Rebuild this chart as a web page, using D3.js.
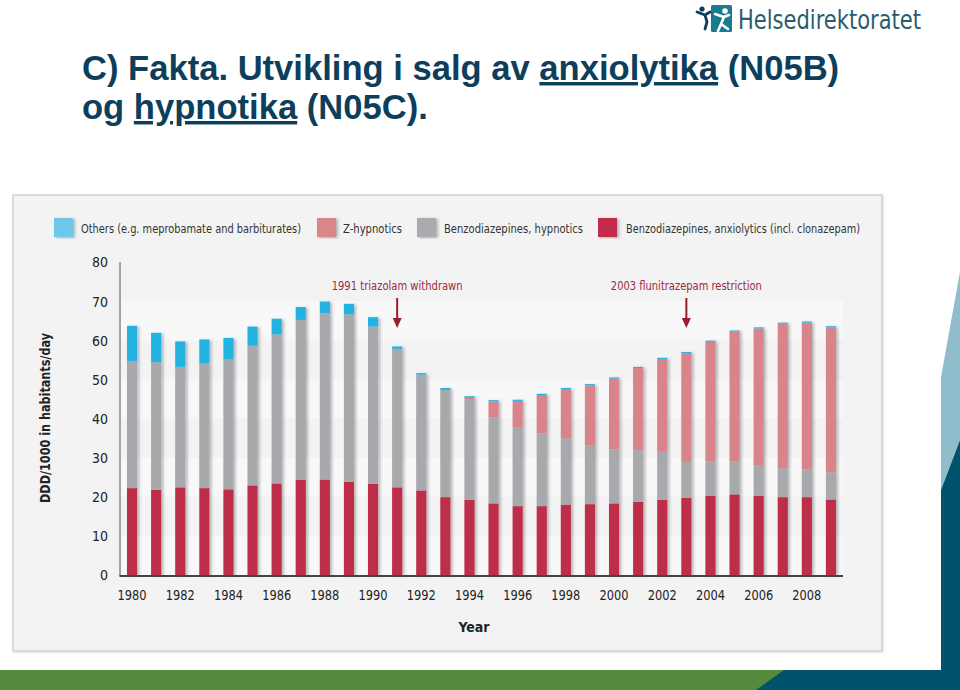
<!DOCTYPE html>
<html>
<head>
<meta charset="utf-8">
<script src="https://cdn.jsdelivr.net/npm/d3@7"></script>
<style>
  html, body { margin: 0; padding: 0; background: #ffffff; }
  svg { display: block; }
  .cond { font-family: 'Liberation Sans Narrow', 'DejaVu Sans Condensed', 'Roboto Condensed', sans-serif; font-stretch: condensed; }
</style>
</head>
<body>
<svg id="chart" width="960" height="690"></svg>
<script>
// ---------- DATA ----------
const years = [1980,1981,1982,1983,1984,1985,1986,1987,1988,1989,1990,1991,1992,1993,1994,1995,1996,1997,1998,1999,2000,2001,2002,2003,2004,2005,2006,2007,2008,2009];
const anxiolytics = [22.2,21.8,22.4,22.2,21.9,22.9,23.4,24.3,24.4,23.8,23.3,22.4,21.6,19.9,19.2,18.3,17.6,17.6,18.0,18.1,18.3,18.7,19.2,19.7,20.3,20.6,20.2,19.9,19.9,19.3];
const benzoHypnotics = [32.5,32.6,30.8,31.9,33.2,35.7,38.1,40.9,42.5,42.8,40.2,35.4,29.6,27.4,25.6,22.0,20.1,18.6,16.9,15.1,13.8,13.2,12.3,9.2,8.8,8.5,7.9,7.4,7.1,6.9];
const zHypnotics = [0,0,0,0,0,0,0,0,0,0,0,0,0,0,0.5,4.1,6.8,9.8,12.6,15.3,18.1,21.0,23.7,27.8,30.5,33.1,34.9,36.9,37.5,37.1];
const others = [9.0,7.5,6.5,6.1,5.5,4.9,4.0,3.3,3.0,2.7,2.4,0.6,0.4,0.5,0.4,0.3,0.3,0.3,0.3,0.3,0.3,0.3,0.3,0.3,0.3,0.3,0.3,0.3,0.3,0.3];
const seriesKeys = ["anx","hyp","z","oth"];
const seriesLabels = ["Benzodiazepines, anxiolytics (incl. clonazepam)","Benzodiazepines, hypnotics","Z-hypnotics","Others (e.g. meprobamate and barbiturates)"];
const yTicks = [0,10,20,30,40,50,60,70,80];
const xTickYears = [1980,1982,1984,1986,1988,1990,1992,1994,1996,1998,2000,2002,2004,2006,2008];
const events = [{year:1991, label:"1991 triazolam withdrawn"},{year:2003, label:"2003 flunitrazepam restriction"}];

const colors = {anx:"#bf2e4a", hyp:"#a7a9ac", z:"#d8848a", oth:"#22b3e3"};
const legendColors = {anx:"#c42a4a", hyp:"#a9abae", z:"#d9868b", oth:"#6ec8ea"};

const table = years.map((y,i) => ({year:y, anx:anxiolytics[i], hyp:benzoHypnotics[i], z:zHypnotics[i], oth:others[i]}));

// ---------- SETUP ----------
const svg = d3.select("#chart");
const defs = svg.append("defs");
const f = defs.append("filter").attr("id","shadow").attr("x","-50%").attr("y","-10%").attr("width","200%").attr("height","120%");
f.append("feDropShadow").attr("dx",2).attr("dy",1).attr("stdDeviation",1.6).attr("flood-color","#000").attr("flood-opacity",0.28);
const f2 = defs.append("filter").attr("id","boxshadow").attr("x","-5%").attr("y","-5%").attr("width","110%").attr("height","110%");
f2.append("feDropShadow").attr("dx",1).attr("dy",1).attr("stdDeviation",1).attr("flood-color","#000").attr("flood-opacity",0.15);

// ---------- PAGE DECORATION ----------
svg.append("polygon").attr("points","941,377 960,272 960,440 941,490").attr("fill","#8fbdcb");
svg.append("polygon").attr("points","941,490 960,440 960,690 941,690").attr("fill","#00536a");
svg.append("rect").attr("x",0).attr("y",670).attr("width",790).attr("height",20).attr("fill","#538a3e");
svg.append("polygon").attr("points","784,670 960,670 960,690 756,690").attr("fill","#00536a");

// Title
const title = svg.append("g").attr("font-family","'Liberation Sans', Arial, sans-serif").attr("font-weight","bold").attr("font-size",34.6).attr("fill","#0d3f5c");
const t1 = title.append("text").attr("x",82).attr("y",80);
t1.append("tspan").text("C) Fakta. Utvikling i salg av ");
t1.append("tspan").attr("text-decoration","underline").text("anxiolytika");
t1.append("tspan").text(" (N05B)");
const t2 = title.append("text").attr("x",82).attr("y",119);
t2.append("tspan").text("og ");
t2.append("tspan").attr("text-decoration","underline").text("hypnotika");
t2.append("tspan").text(" (N05C).");

// Logo
const logo = svg.append("g");
logo.append("rect").attr("x",711).attr("y",5).attr("width",21).attr("height",27).attr("rx",1.5).attr("fill","#1c7a90");
logo.append("circle").attr("cx",725).attr("cy",11).attr("r",2.8).attr("fill","#fff");
logo.append("path").attr("d","M715,14 L724,17 L729,15 M724,17 L721,24 L718,31 M721,24 L728,29").attr("stroke","#fff").attr("stroke-width",2.6).attr("fill","none").attr("stroke-linecap","round");
logo.append("circle").attr("cx",702).attr("cy",9).attr("r",2.6).attr("fill","#0d3f5c");
logo.append("path").attr("d","M697,12 L705,15 L710,12 M705,15 L707,22 L705,29").attr("stroke","#0d3f5c").attr("stroke-width",2.8).attr("fill","none").attr("stroke-linecap","round");
logo.append("text").attr("x",738).attr("y",29).attr("font-family","'DejaVu Sans Condensed', 'Liberation Sans Narrow', sans-serif")
  .attr("font-size",26).attr("fill","#2b5c6e").attr("textLength",183).attr("lengthAdjust","spacingAndGlyphs").text("Helsedirektoratet");

// ---------- CHART BOX ----------
svg.append("rect").attr("x",13).attr("y",195).attr("width",869).attr("height",456)
  .attr("fill","#f3f3f3").attr("stroke","#c9c9c9").attr("stroke-width",1.2).attr("filter","url(#boxshadow)");

const x = d3.scaleBand().domain(years).range([120,843]).paddingInner(0.58).paddingOuter(0.29);
const y = d3.scaleLinear().domain([0,80]).range([575,262]);

// subtle bands
const bandStarts = [0,20,40,60];
svg.append("g").selectAll("rect").data(bandStarts).join("rect")
  .attr("x",121).attr("width",722)
  .attr("y",d => y(d+10)).attr("height",d => y(d)-y(d+10))
  .attr("fill","#f8f8f8");

// Legend
const legendItems = [
  {key:"oth", label:seriesLabels[3], x:54, tx:81, tw:220},
  {key:"z", label:seriesLabels[2], x:317, tx:343, tw:59},
  {key:"hyp", label:seriesLabels[1], x:417, tx:444, tw:139},
  {key:"anx", label:seriesLabels[0], x:598, tx:626, tw:234}
];
const lg = svg.append("g");
lg.selectAll("rect").data(legendItems).join("rect")
  .attr("x",d=>d.x).attr("y",218).attr("width",19).attr("height",19)
  .attr("fill",d=>legendColors[d.key]).attr("filter","url(#shadow)");
lg.selectAll("text").data(legendItems).join("text")
  .attr("class","cond").attr("x",d=>d.tx).attr("y",233).attr("font-size",13).attr("fill","#333")
  .attr("textLength",d=>d.tw).attr("lengthAdjust","spacingAndGlyphs").text(d=>d.label);

// Bars
const stack = d3.stack().keys(seriesKeys)(table);
const barsG = svg.append("g").attr("filter","url(#shadow)");
barsG.selectAll("g").data(stack).join("g")
  .attr("fill",d=>colors[d.key])
  .selectAll("rect").data(d=>d).join("rect")
  .attr("x",d=>x(d.data.year)).attr("width",x.bandwidth())
  .attr("y",d=>y(d[1])).attr("height",d=>Math.max(0,y(d[0])-y(d[1])));

// Axes
svg.append("line").attr("x1",120).attr("x2",120).attr("y1",262).attr("y2",576).attr("stroke","#555").attr("stroke-width",1);
svg.append("line").attr("x1",119.5).attr("x2",843).attr("y1",576).attr("y2",576).attr("stroke","#444").attr("stroke-width",1.8);

const yAxis = d3.axisLeft(y).tickValues(yTicks).tickSize(0).tickPadding(12);
const ya = svg.append("g").attr("transform","translate(120,0)").call(yAxis);
ya.select(".domain").remove();
ya.selectAll("text").attr("class","cond").attr("font-size",14).attr("fill","#222").attr("dy","0.35em");

const xAxis = d3.axisBottom(x).tickValues(xTickYears).tickSize(0).tickPadding(14);
const xa = svg.append("g").attr("transform","translate(0,576)").call(xAxis);
xa.select(".domain").remove();
xa.selectAll("text").attr("class","cond").attr("font-size",14).attr("fill","#222")
  .attr("textLength",29).attr("lengthAdjust","spacingAndGlyphs");

svg.append("text").attr("class","cond").attr("x",474).attr("y",632).attr("text-anchor","middle")
  .attr("font-size",14).attr("font-weight","bold").attr("fill","#222").text("Year");
svg.append("text").attr("class","cond").attr("transform","translate(50,418) rotate(-90)").attr("text-anchor","middle")
  .attr("font-size",13.5).attr("font-weight","bold").attr("fill","#222")
  .attr("textLength",170).attr("lengthAdjust","spacingAndGlyphs").text("DDD/1000 in habitants/day");

// Annotations
const evWidths = [131, 151];
const ev = svg.append("g");
events.forEach((e,i) => {
  const cx = x(e.year) + x.bandwidth()/2;
  ev.append("text").attr("class","cond").attr("x",cx).attr("y",290).attr("text-anchor","middle")
    .attr("font-size",13).attr("fill","#9b2a40")
    .attr("textLength",evWidths[i]).attr("lengthAdjust","spacingAndGlyphs").text(e.label);
  ev.append("line").attr("x1",cx).attr("x2",cx).attr("y1",298).attr("y2",320).attr("stroke","#9b1b30").attr("stroke-width",2);
  ev.append("path").attr("d",`M${cx-4.5},318 L${cx+4.5},318 L${cx},328 Z`).attr("fill","#9b1b30");
});
</script>
</body>
</html>
